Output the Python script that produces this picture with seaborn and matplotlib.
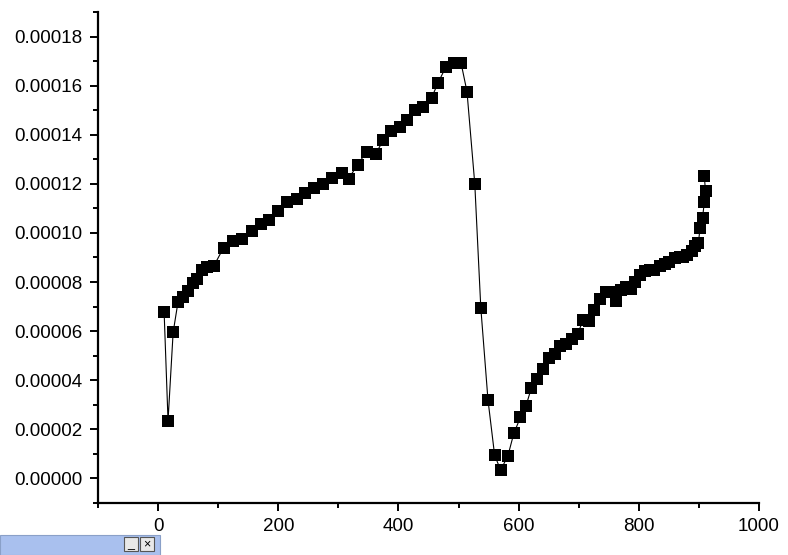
import matplotlib
matplotlib.use("Agg")
import matplotlib.pyplot as plt
import matplotlib.patches as mpatches
import pandas as pd
import seaborn as sns

x_vals = [10, 16.5, 25, 33, 41, 50, 58, 64, 73, 81, 93, 109, 124, 140, 157, 172,
          185, 200, 215, 231, 245, 260, 274, 289, 306, 317, 332, 347, 362, 375,
          388, 402, 415, 428, 440, 455, 466, 479, 493, 504, 514, 527, 537, 549,
          560, 570, 582, 592, 603, 612, 621, 631, 640, 650, 660, 669, 678, 688,
          698, 707, 717, 726, 736, 745, 755, 762, 770, 779, 787, 793, 802, 810,
          818, 826, 835, 843, 851, 860, 868, 874, 881, 888, 894, 899, 902, 906,
          909, 911, 909]
y_vals = [6.77, 2.35, 5.95, 7.17, 7.41, 7.62, 7.95, 8.14, 8.51, 8.63, 8.67, 9.40,
          9.69, 9.77, 10.09, 10.38, 10.54, 10.91, 11.27, 11.39, 11.64, 11.84,
          12.00, 12.25, 12.45, 12.21, 12.78, 13.31, 13.22, 13.79, 14.16, 14.32,
          14.60, 15.01, 15.13, 15.50, 16.12, 16.77, 16.94, 16.94, 15.76, 12.00,
          6.96, 3.19, 0.95, 0.34, 0.91, 1.84, 2.49, 2.94, 3.67, 4.04, 4.44, 4.89,
          5.05, 5.38, 5.46, 5.66, 5.87, 6.44, 6.40, 6.88, 7.29, 7.58, 7.58, 7.21,
          7.66, 7.78, 7.70, 8.02, 8.27, 8.43, 8.51, 8.51, 8.67, 8.75, 8.83, 8.96,
          9.00, 9.00, 9.12, 9.28, 9.48, 9.57, 10.22, 10.62, 11.24, 11.69, 12.30]
y_vals = [v * 1e-5 for v in y_vals]

x_ticks = [0, 200, 400, 600, 800, 1000]
y_ticks = [0.0, 0.00002, 0.00004, 0.00006, 0.00008, 0.00010, 0.00012,
           0.00014, 0.00016, 0.00018]

df = pd.DataFrame({"x": x_vals, "y": y_vals})

sns.set_style("ticks")
plt.rcParams["font.family"] = ["Liberation Sans", "DejaVu Sans"]

fig = plt.figure(figsize=(7.88, 5.55), dpi=100)
ax = fig.add_axes([0.1244, 0.0937, 0.8388, 0.8847])

sns.lineplot(data=df, x="x", y="y", sort=False, estimator=None, color="black",
             linewidth=0.8, marker="s", markersize=8, markeredgewidth=0,
             markerfacecolor="black", ax=ax)

ax.set_xlim(-100, 1000)
ax.set_ylim(-0.00001, 0.00019)
ax.set_xticks(x_ticks)
ax.set_yticks(y_ticks)
ax.set_yticklabels([f"{v:.5f}" for v in y_ticks])
ax.set_xticks([-100, 100, 300, 500, 700, 900], minor=True)
ax.set_yticks([i * 1e-5 - 0.00001 for i in range(0, 21, 2)], minor=True)
ax.set_xlabel("")
ax.set_ylabel("")

for s in ["top", "right"]:
    ax.spines[s].set_visible(False)
for s in ["left", "bottom"]:
    ax.spines[s].set_linewidth(1.6)
    ax.spines[s].set_color("black")
ax.tick_params(which="major", length=6, width=1.4, labelsize=13.5, colors="black", pad=5)
ax.tick_params(which="minor", length=3.5, width=1.4, colors="black")

# Rest eines minimierten Fensters links unten
fig.patches.append(mpatches.Rectangle((0, 0), 160 / 788, 20 / 555,
                                      transform=fig.transFigure,
                                      facecolor="#a9c0ee", edgecolor="#8aa0c8",
                                      linewidth=0.8))
for bx, sym in [(124, "_"), (140, "×")]:
    fig.patches.append(mpatches.Rectangle((bx / 788, 4 / 555), 14 / 788, 14 / 555,
                                          transform=fig.transFigure,
                                          facecolor="#e8e8e8", edgecolor="#555555",
                                          linewidth=0.8))
    fig.text((bx + 7) / 788, 11 / 555, sym, ha="center", va="center",
             fontsize=9, color="black")

fig.savefig("out.png", dpi=100)
